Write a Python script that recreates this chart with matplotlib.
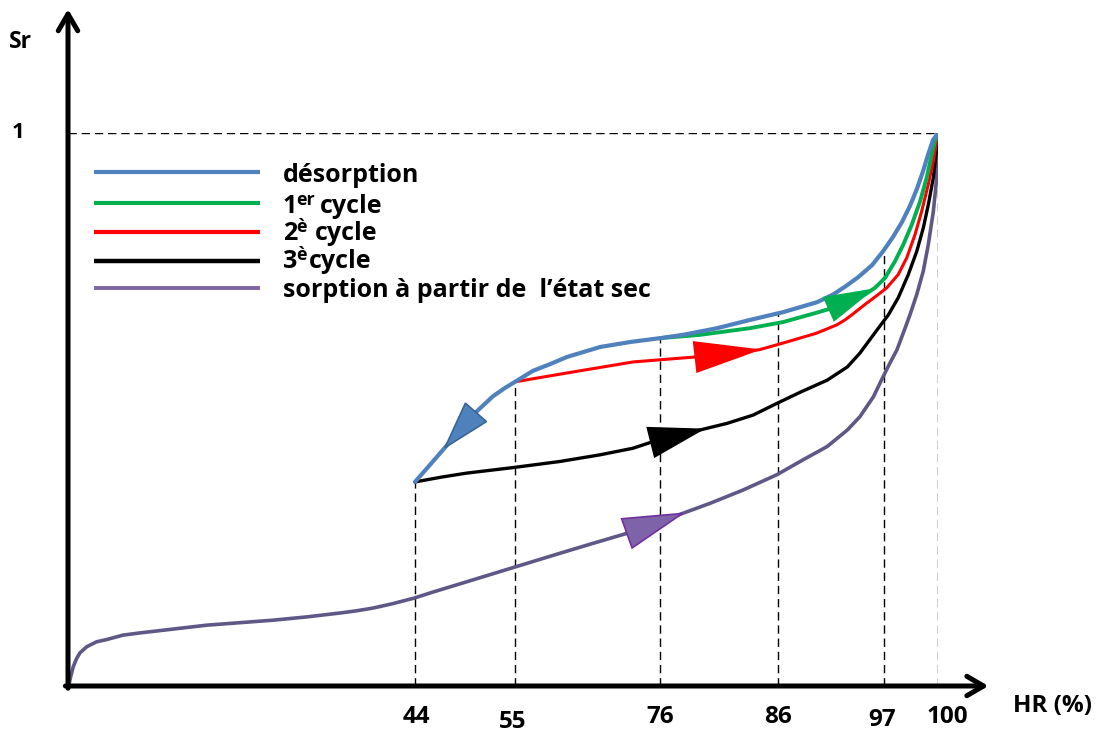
import numpy as np
import matplotlib
matplotlib.use("Agg")
import matplotlib.pyplot as plt
from matplotlib.patches import Polygon
from matplotlib.transforms import IdentityTransform

plt.rcParams['font.family'] = ['Open Sans', 'DejaVu Sans']
plt.rcParams['font.weight'] = 'bold'

# schematic curves, Sr against HR (%)
desorp_hr = [44.0, 45.65, 47.08, 48.95, 50.82, 52.58, 53.9, 55.0, 57.61, 60.07, 62.53, 67.31, 71.66,
             76.0, 77.95, 80.83, 83.63, 86.52, 90.05, 91.72, 92.95, 94.30, 95.76, 96.90, 97.50,
             98.0, 98.44, 98.83, 99.17, 99.44, 99.72, 100.0]
desorp_sr = [0.369, 0.400, 0.427, 0.463, 0.497, 0.524, 0.539, 0.550, 0.570, 0.582, 0.595, 0.613, 0.622,
             0.629, 0.635, 0.647, 0.662, 0.676, 0.694, 0.708, 0.722, 0.739, 0.761, 0.786, 0.812,
             0.839, 0.868, 0.899, 0.931, 0.960, 0.987, 1.0]

cycle1_hr = [76.0, 79.4, 83.6, 86.5, 90.0, 92.7, 95.03, 96.07, 97.06, 97.61, 98.07, 98.54, 99.0,
             99.37, 99.65, 99.83, 100.0]
cycle1_sr = [0.629, 0.635, 0.647, 0.658, 0.675, 0.689, 0.708, 0.720, 0.738, 0.768, 0.798, 0.834, 0.876,
             0.919, 0.961, 0.985, 1.0]

cycle2_hr = [55.0, 62.5, 72.1, 79.0, 84.4, 86.5, 90.0, 92.1, 92.95, 93.65, 95.03, 96.41, 97.15,
             97.79, 98.26, 98.72, 99.09, 99.46, 99.74, 100.0]
cycle2_sr = [0.550, 0.566, 0.586, 0.595, 0.608, 0.620, 0.638, 0.653, 0.662, 0.671, 0.690, 0.708, 0.720,
             0.744, 0.774, 0.816, 0.858, 0.907, 0.949, 1.0]

cycle3_hr = [44.0, 47.0, 49.7, 54.8, 61.5, 67.3, 72.1, 75.0, 79.4, 81.7, 83.9, 85.9, 88.4, 91.1, 93.2,
             94.5, 96.41, 97.24, 97.79, 98.35, 98.82, 99.18, 99.46, 99.74, 99.93, 100.0]
cycle3_sr = [0.369, 0.378, 0.385, 0.395, 0.406, 0.418, 0.430, 0.442, 0.463, 0.475, 0.490, 0.511, 0.532, 0.553, 0.577,
             0.602, 0.647, 0.671, 0.702, 0.744, 0.786, 0.828, 0.870, 0.919, 0.973, 1.0]

dry_hr = [0.0, 0.16, 0.34, 0.67, 1.10, 1.52, 2.37, 3.64, 4.91, 6.97, 9.13, 17.6, 26.0, 30.3, 34.5,
          36.6, 38.7, 41.2, 43.9, 46.0, 49.0, 61.5, 66.3, 71.2, 76.0, 77.9, 80.2, 83.0, 85.9, 88.6,
          91.1, 93.2, 94.5, 95.9, 96.9, 97.33, 97.72, 98.17, 98.44, 98.82, 99.18, 99.46, 99.74,
          99.93, 100.0]
dry_sr = [0.0, 0.005, 0.017, 0.035, 0.050, 0.060, 0.071, 0.080, 0.084, 0.092, 0.096, 0.110, 0.119, 0.125, 0.132,
          0.136, 0.141, 0.149, 0.159, 0.170, 0.185, 0.240, 0.258, 0.276, 0.297, 0.312, 0.330, 0.354, 0.382, 0.409,
          0.433, 0.463, 0.487, 0.523, 0.559, 0.584, 0.608, 0.647, 0.671, 0.708, 0.750, 0.798, 0.858,
          0.919, 1.0]

# direction arrows: (HR at base, HR at tip)
arrow_hr = {'desorp': (50.7, 47.3), 'c1': (91.3, 95.8), 'c2': (79.0, 84.3),
            'c3': (74.7, 79.6), 'dry': (71.2, 77.9)}

hr_ticks = [44, 55, 76, 86, 97, 100]
# legend entries as (text, superscript, rest)
legend_labels = [('désorption', '', ''), ('1', 'er', 'cycle'), ('2', 'è', 'cycle'),
                 ('3', 'è', 'cycle'), ('sorption à partir de  l’état sec', '', '')]

# the HR axis of the sketch is not linear
knot_hr = [0, 44, 55, 76, 86, 97, 100]
knot_pos = [0, 347, 447, 592, 710, 816, 870]


def fwd(x):
    return np.interp(x, knot_hr, knot_pos)


def inv(x):
    return np.interp(x, knot_pos, knot_hr)


W, H = 1106, 733
fig = plt.figure(figsize=(W / 100, H / 100), dpi=100)
ax = fig.add_axes([68 / W, 47 / H, 870 / W, 553 / H])
ax.set_xscale('function', functions=(fwd, inv))
ax.set_xlim(0, 100)
ax.set_ylim(0, 1)
ax.axis('off')

blue, green, red = '#4F81BD', '#00B050', '#FF0000'
purple_line, purple_leg = '#5E5887', '#8064A2'
dash = (0, (6, 3.5))

# dashed guides
tops = np.interp(hr_ticks, desorp_hr, desorp_sr)
ax.vlines(hr_ticks, 0, tops, colors='k', linewidth=1.0, linestyles=[dash])
ax.hlines(1, 0, 100, colors='k', linewidth=1.0, linestyles=[dash])

kw = dict(solid_capstyle='round', solid_joinstyle='round')
ax.plot(dry_hr, dry_sr, color=purple_line, lw=2.6, **kw)
ax.plot(cycle3_hr, cycle3_sr, color='black', lw=2.4, **kw)
ax.plot(cycle2_hr, cycle2_sr, color=red, lw=2.2, **kw)
ax.plot(cycle1_hr, cycle1_sr, color=green, lw=2.8, **kw)
ax.plot(desorp_hr, desorp_sr, color=blue, lw=3.0, **kw)


def head(hr, sr, key, half_w, fc, ec):
    b, t = arrow_hr[key]
    p0 = ax.transData.transform((b, np.interp(b, hr, sr)))
    p1 = ax.transData.transform((t, np.interp(t, hr, sr)))
    d = p1 - p0
    n = np.array([-d[1], d[0]]) / np.hypot(*d)
    tri = Polygon([p1, p0 + n * half_w, p0 - n * half_w], closed=True,
                  facecolor=fc, edgecolor=ec, linewidth=1.2, zorder=5,
                  transform=IdentityTransform())
    ax.add_artist(tri)


head(desorp_hr, desorp_sr, 'desorp', 14, blue, '#3A6496')
head(cycle1_hr, cycle1_sr, 'c1', 12.5, green, green)
head(cycle2_hr, cycle2_sr, 'c2', 15, red, red)
head(cycle3_hr, cycle3_sr, 'c3', 15, 'black', 'black')
head(dry_hr, dry_sr, 'dry', 15.5, '#7E63A8', '#7030A0')

# axes with arrow heads
arr = dict(arrowstyle='->,head_length=12,head_width=7', lw=3.6, color='black',
           shrinkA=0, shrinkB=0, mutation_scale=1)
ax.annotate('', xy=(1.058, 0), xytext=(-0.003, 0), xycoords='axes fraction', arrowprops=arr)
ax.annotate('', xy=(0, 1.224), xytext=(0, -0.004), xycoords='axes fraction', arrowprops=arr)

# tick labels (a few are nudged in the original)
nudge = [(1, -22.5), (-2, -26), (0, -22.5), (0, -22.5), (-1.5, -24.5), (6.5, -22.5)]
for v, (dx, dy) in zip(hr_ticks, nudge):
    ax.annotate(str(v), xy=(v, 0), xytext=(dx, dy), textcoords='offset points',
                ha='center', va='center', fontsize=17.5, fontweight='bold')

ax.text(1.132, -0.036, 'HR (%)', transform=ax.transAxes, ha='center', va='center',
        fontsize=17.5, fontweight='bold')
ax.text(-0.055, 1.165, 'Sr', transform=ax.transAxes, ha='center', va='center',
        fontsize=16.5, fontweight='bold')
ax.annotate('1', xy=(0, 1), xytext=(-36, 0), textcoords='offset points',
            ha='center', va='center', fontsize=16, fontweight='bold')

# legend drawn by hand to keep the uneven row spacing of the sketch
leg_colors = [blue, green, red, 'black', purple_leg]
leg_widths = [3.0, 3.0, 3.0, 3.2, 2.8]
row_line = [172, 203, 232, 261, 288]
row_base = [182, 213, 240, 268, 297]
rest_gap = [0, 4, 6, 2, 0]
for (main, sup, rest), c, w, yl, yb, g in zip(legend_labels, leg_colors, leg_widths,
                                               row_line, row_base, rest_gap):
    ax.plot([(94 - 68) / 870, (260 - 68) / 870], [(686 - yl) / 553] * 2, color=c, lw=w,
            transform=ax.transAxes, clip_on=False, solid_capstyle='butt')
    t = ax.text((283 - 68) / 870, (686 - yb) / 553, main, transform=ax.transAxes,
                ha='left', va='baseline', fontsize=18, fontweight='bold')
    if sup:
        s = ax.annotate(sup, xy=(1, 0), xycoords=t, xytext=(-1, 7), textcoords='offset points',
                        ha='left', va='bottom', fontsize=13, fontweight='bold')
        ax.annotate(rest, xy=(1, 0), xycoords=(s, t), xytext=(g, 0), textcoords='offset points',
                    ha='left', va='bottom', fontsize=18, fontweight='bold')

fig.savefig('out.png', dpi=100)
